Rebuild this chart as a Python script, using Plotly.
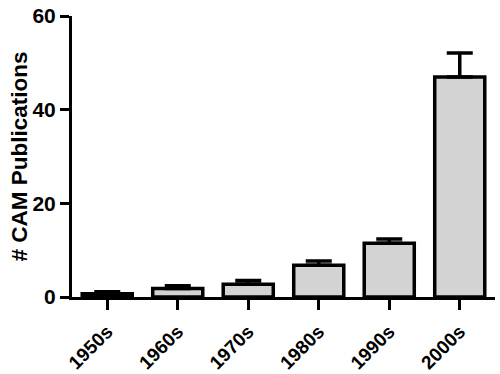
import plotly.graph_objects as go

decades = ["1950s", "1960s", "1970s", "1980s", "1990s", "2000s"]
publications = [0.7, 1.8, 2.7, 6.8, 11.5, 47.0]
error_upper = [0.4, 0.6, 0.8, 0.9, 0.9, 5.1]
y_ticks = [0, 20, 40, 60]

font_family = "Liberation Sans, Arial, sans-serif"

fig = go.Figure()
fig.add_trace(go.Bar(
    x=list(range(len(decades))),
    y=publications,
    width=0.71,
    marker=dict(color="#d3d3d3", line=dict(color="black", width=3.5)),
    error_y=dict(type="data", symmetric=False, array=error_upper,
                 arrayminus=[0] * len(decades), color="black",
                 thickness=3.5, width=13),
))

fig.update_layout(
    width=500, height=374,
    margin=dict(l=72, r=5, t=16, b=77, autoexpand=False),
    plot_bgcolor="white", paper_bgcolor="white",
    showlegend=False,
    xaxis=dict(
        range=[-0.5, 5.5], automargin=False,
        tickmode="array", tickvals=list(range(len(decades))), ticktext=decades,
        tickangle=-45, ticklabelstandoff=3,
        showline=True, linecolor="black", linewidth=3,
        ticks="outside", ticklen=10, tickwidth=3, tickcolor="black",
        showgrid=False, zeroline=False,
        tickfont=dict(family=font_family, size=19, color="black", weight="bold"),
    ),
    yaxis=dict(
        range=[0, 60], automargin=False,
        tickmode="array", tickvals=y_ticks,
        showline=True, linecolor="black", linewidth=3,
        ticks="outside", ticklen=9, tickwidth=3, tickcolor="black",
        showgrid=False, zeroline=False,
        tickfont=dict(family=font_family, size=21, color="black", weight="bold"),
    ),
    annotations=[dict(
        text="# CAM Publications", textangle=-90,
        xref="paper", yref="paper", x=0, y=0.5,
        xanchor="center", yanchor="middle", xshift=-53,
        showarrow=False,
        font=dict(family=font_family, size=22.5, color="black", weight="bold"),
    )],
)

fig.write_html("out.html", post_script="document.body.style.margin='0';",
               config={"displayModeBar": False})
